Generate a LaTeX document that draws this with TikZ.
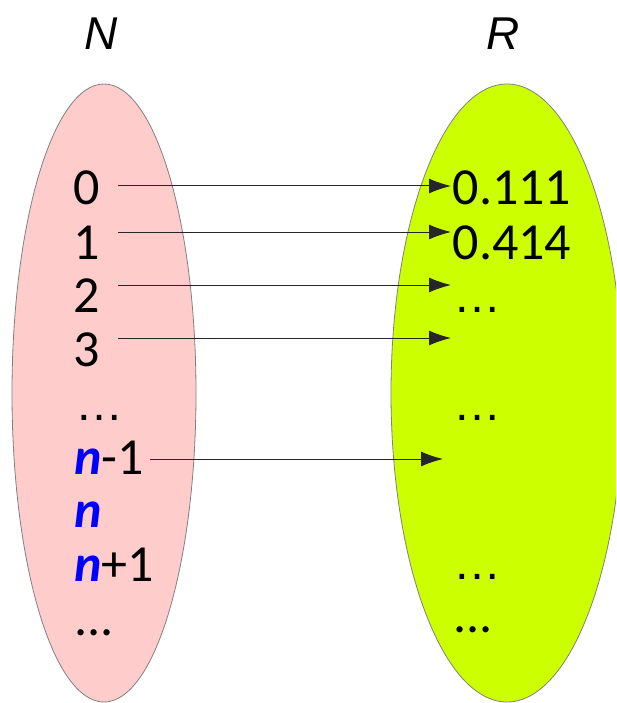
\documentclass[tikz,border=0pt]{standalone}
\usepackage{fontspec}
\setmainfont{Carlito}
\newfontfamily\hdrfont{Liberation Sans}
\usetikzlibrary{arrows.meta}
\definecolor{pinkfill}{HTML}{FFCCCC}
\definecolor{limefill}{HTML}{CCFF00}
\definecolor{nblue}{HTML}{0000FF}
\begin{document}
\begin{tikzpicture}[x=1pt,y=-1pt,
  txt/.style={font=\fontsize{52}{60}\selectfont, inner sep=0pt, anchor=base west},
  ell/.style={font=\hdrfont\fontsize{48}{56}\selectfont, inner sep=0pt, anchor=base west},
  hdr/.style={font=\hdrfont\fontsize{46}{55}\selectfont\itshape, inner sep=0pt, anchor=base},
  setshape/.style={draw=gray, line width=0.8pt},
  maparrow/.style={line width=1pt, draw=black!85, -{Latex[length=22pt,width=15pt]}}]
\useasboundingbox (0,0) rectangle (616,703);
\begin{scope}
  \clip (0,0) rectangle (616,703);
  \filldraw[setshape, fill=pinkfill] (104,393) ellipse [x radius=92, y radius=309];
  \filldraw[setshape, fill=limefill] (507,393) ellipse [x radius=116, y radius=309];
\end{scope}
\node[hdr] (N) at (101,50) {N};
\node[hdr] (R) at (503,50) {R};
% left column
\node[txt] (l0) at (73.5,205) {0};
\node[txt] (l1) at (73.5,259) {1};
\node[txt] (l2) at (73.5,312) {2};
\node[txt] (l3) at (73.5,366) {3};
\node[ell] (ldots) at (75.5,420) {…};
\node[txt] (lnm1) at (74,474) {\textcolor{nblue}{\bfseries\itshape n}-1};
\node[txt] (ln) at (74,527) {\textcolor{nblue}{\bfseries\itshape n}};
\node[txt] (lnp1) at (74,581) {\textcolor{nblue}{\bfseries\itshape n}+1};
\node[txt] (lend) at (74,635) {...};
% right column
\node[txt] (r0) at (452.5,205) {0.111};
\node[txt] (r1) at (452.5,259) {0.414};
\node[ell] (r2) at (453.5,312) {…};
\node[ell] (r3) at (453.5,420) {…};
\node[ell] (r4) at (453.5,579) {…};
\node[txt] (rend) at (453,632) {...};
% arrow ends
\coordinate (a0s) at (118,186); \coordinate (a0e) at (451,186);
\coordinate (a1s) at (118,232); \coordinate (a1e) at (451,232);
\coordinate (a2s) at (118,285); \coordinate (a2e) at (451,285);
\coordinate (a3s) at (118,338); \coordinate (a3e) at (451,338);
\coordinate (a4s) at (150,459); \coordinate (a4e) at (443,459);
\draw[maparrow] (a0s) -- (a0e);
\draw[maparrow] (a1s) -- (a1e);
\draw[maparrow] (a2s) -- (a2e);
\draw[maparrow] (a3s) -- (a3e);
\draw[maparrow] (a4s) -- (a4e);
\end{tikzpicture}
\end{document}
